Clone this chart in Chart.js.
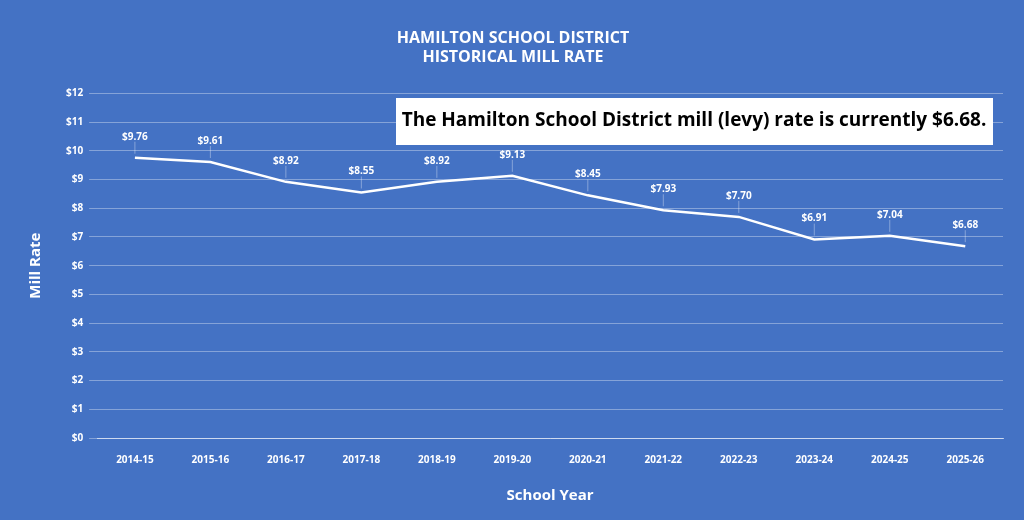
<!DOCTYPE html>
<html><head><meta charset="utf-8">
<script src="https://cdn.jsdelivr.net/npm/chart.js@4"></script>
<style>html,body{margin:0;background:#4472C4;}#w{width:1024px;height:520px;}</style>
</head><body><div id="w"><canvas id="c" width="1024" height="520"></canvas></div>
<script>
const categories=["2014-15","2015-16","2016-17","2017-18","2018-19","2019-20","2020-21","2021-22","2022-23","2023-24","2024-25","2025-26"];
const millRates=[9.76,9.61,8.92,8.55,8.92,9.13,8.45,7.93,7.70,6.91,7.04,6.68];
const titleLines=["HAMILTON SCHOOL DISTRICT","HISTORICAL MILL RATE"];
const noteText="The Hamilton School District mill (levy) rate is currently $6.68.";
const F="'Open Sans', sans-serif";
const deco={id:'deco',afterDatasetsDraw(ch){
 const c=ch.ctx,m=ch.getDatasetMeta(0);
 c.save();
 c.font="bold 10px "+F;c.fillStyle="#fff";c.textAlign="center";c.textBaseline="bottom";
 m.data.forEach((p,i)=>{
  c.strokeStyle="rgba(255,255,255,0.35)";c.lineWidth=1;
  c.beginPath();c.moveTo(p.x,p.y-4);c.lineTo(p.x,p.y-16);c.stroke();
  c.fillText("$"+millRates[i].toFixed(2),p.x,p.y-16);
 });
 c.fillStyle="#fff";c.fillRect(396,98,597,47);
 c.fillStyle="#000";c.font="bold 19px "+F;c.textAlign="center";c.textBaseline="middle";
 c.fillText(noteText,694,121);
 c.restore();
}};
new Chart(document.getElementById('c'),{type:'line',
 data:{labels:categories,datasets:[{data:millRates,borderColor:'#fff',borderWidth:2.5,pointRadius:0,tension:0}]},
 options:{responsive:false,animation:false,
  layout:{padding:{left:23,right:21,top:8,bottom:11}},
  plugins:{legend:{display:false},tooltip:{enabled:false},
   title:{display:true,text:titleLines,color:'#fff',font:{family:F,size:16,weight:'bold'},padding:{top:21,bottom:26},lineHeight:1.35}},
  scales:{
   x:{offset:true,grid:{display:false},border:{color:'rgba(255,255,255,0.6)'},ticks:{color:'#fff',font:{family:F,size:10,weight:'bold'},padding:8},
      title:{display:true,text:'School Year',color:'#fff',font:{family:F,size:15,weight:'bold'},padding:{top:13}}},
   y:{min:0,max:12,grid:{color:'rgba(255,255,255,0.35)'},border:{display:false},
      ticks:{stepSize:1,color:'#fff',font:{family:F,size:10,weight:'bold'},callback:v=>'$'+v,padding:6},
      title:{display:true,text:'Mill Rate',color:'#fff',font:{family:F,size:15,weight:'bold'},padding:{bottom:15}}}
  }},plugins:[deco]});
</script></body></html>
